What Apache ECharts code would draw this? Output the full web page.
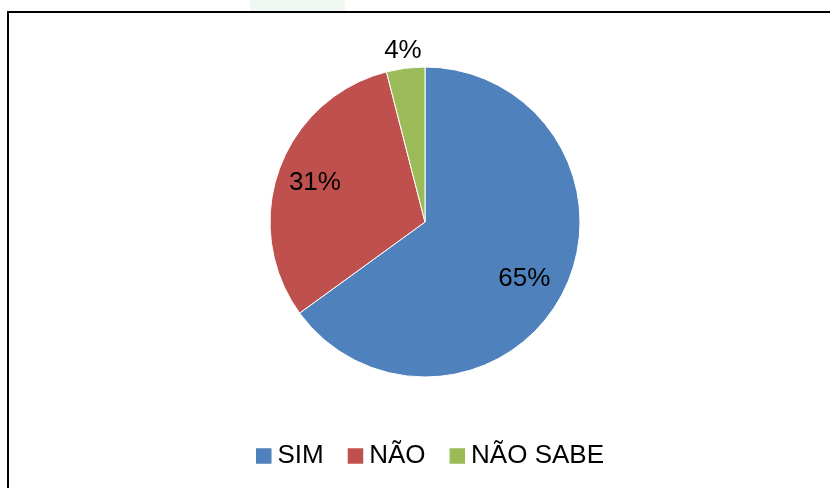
<!DOCTYPE html>
<html>
<head>
<meta charset="utf-8">
<script src="https://cdn.jsdelivr.net/npm/echarts@6/dist/echarts.min.js"></script>
<style>html,body{margin:0;padding:0;background:#fff}#c{width:830px;height:488px}</style>
</head>
<body>
<div id="c"></div>
<script>
const categories = ['SIM', 'NÃO', 'NÃO SABE'];
const values = [65, 31, 4];
const colors = ['#4F81BD', '#C0504D', '#9BBB59'];

const font = '"Liberation Sans", Arial, sans-serif';
const data = categories.map((n, i) => ({ name: n, value: values[i], itemStyle: { color: colors[i] } }));
const fmt = p => p.value + '%';
const labelOffsets = [[-5, 4], [0, 0], [0, 3]];

const chart = echarts.init(document.getElementById('c'), null, { renderer: 'canvas' });
chart.setOption({
  animation: false,
  backgroundColor: '#fff',
  graphic: [
    { type: 'rect', shape: { x: 250, y: 0, width: 95, height: 11 }, style: { fill: '#f1f7f1' }, z: -1 },
    { type: 'rect', shape: { x: 8, y: 12, width: 840, height: 490 }, style: { fill: 'none', stroke: '#000', lineWidth: 2 }, z: 10 }
  ],
  legend: {
    left: 254, top: 443, padding: 0,
    itemWidth: 17.5, itemHeight: 17.5, itemGap: 22,
    icon: 'rect',
    data: categories,
    textStyle: { fontFamily: font, fontSize: 26, lineHeight: 26, color: '#000' }
  },
  series: [
    {
      type: 'pie', center: [425, 222], radius: [0, 155], startAngle: 90, clockwise: true,
      silent: true,
      itemStyle: { borderColor: '#fff', borderWidth: 1 },
      label: { show: false }, labelLine: { show: false },
      data: data
    },
    {
      type: 'pie', center: [425, 222], radius: [0, 228], startAngle: 90, clockwise: true,
      silent: true, legendHoverLink: false,
      itemStyle: { color: 'transparent' },
      label: { show: true, position: 'inside', formatter: fmt, fontFamily: font, fontSize: 26, color: '#000' },
      labelLine: { show: false },
      data: data.map((d, i) => ({ name: d.name + ' ', value: d.value, itemStyle: { color: 'transparent' }, label: { show: i < 2, offset: labelOffsets[i] } }))
    },
    {
      type: 'pie', center: [425, 222], radius: [0, 346], startAngle: 90, clockwise: true,
      silent: true, legendHoverLink: false,
      itemStyle: { color: 'transparent' },
      label: { show: true, position: 'inside', formatter: fmt, fontFamily: font, fontSize: 26, color: '#000' },
      labelLine: { show: false },
      data: data.map((d, i) => ({ name: d.name + '  ', value: d.value, itemStyle: { color: 'transparent' }, label: { show: i === 2, offset: labelOffsets[i] } }))
    }
  ]
});
</script>
</body>
</html>
